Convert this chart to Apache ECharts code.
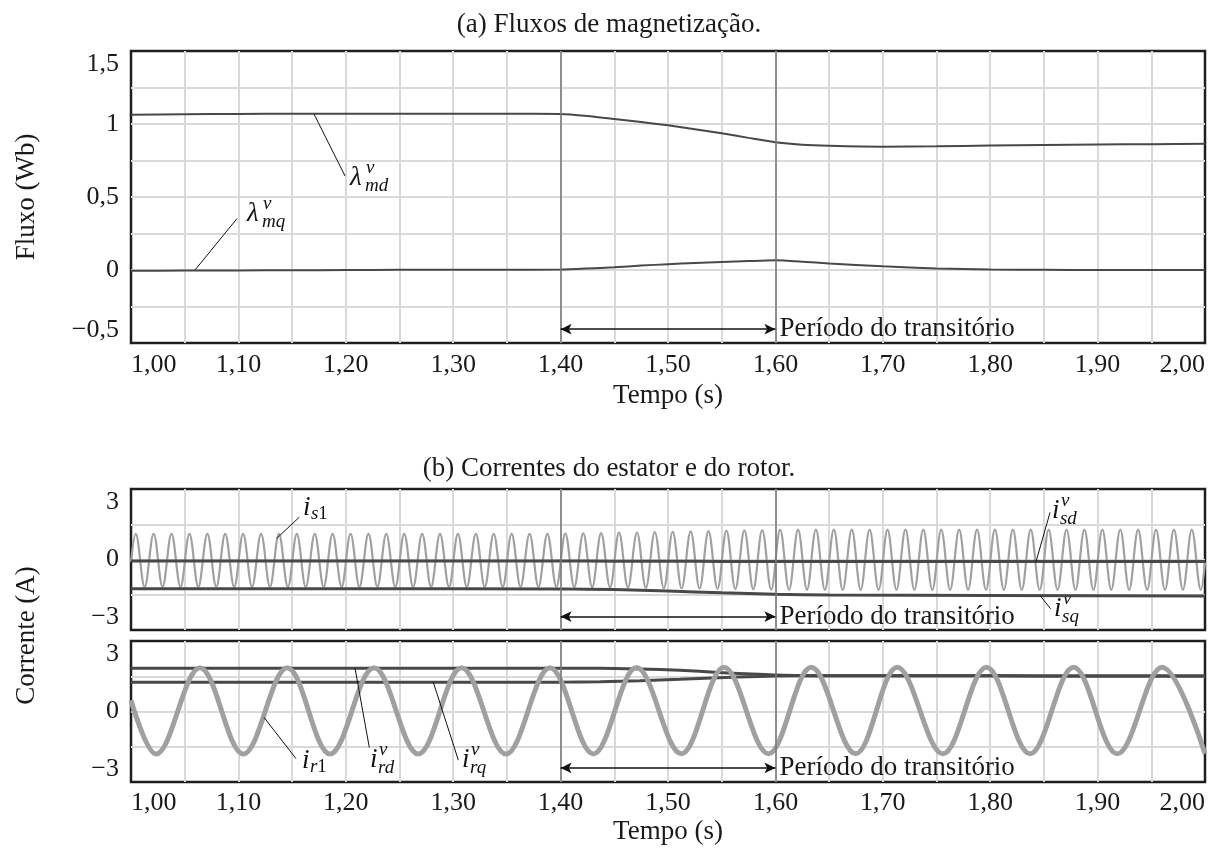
<!DOCTYPE html>
<html>
<head>
<meta charset="utf-8">
<script src="https://cdn.jsdelivr.net/npm/echarts@6/dist/echarts.min.js"></script>
<style>
  html, body { margin: 0; padding: 0; background: #ffffff; }
  #chart { width: 1218px; height: 853px; }
</style>
</head>
<body>
<div id="chart"></div>
<script>
// ---- axis ticks -------------------------------------------------------
const timeTicks = [1.0, 1.1, 1.2, 1.3, 1.4, 1.5, 1.6, 1.7, 1.8, 1.9, 2.0];
const timeTickLabels = ['1,00', '1,10', '1,20', '1,30', '1,40', '1,50', '1,60', '1,70', '1,80', '1,90', '2,00'];
const fluxTicks = [-0.5, 0, 0.5, 1, 1.5];
const fluxTickLabels = ['\u22120,5', '0', '0,5', '1', '1,5'];
const currentTicks = [-3, 0, 3];
const currentTickLabels = ['\u22123', '0', '3'];

// transient window (s)
const transientStart = 1.40;
const transientEnd = 1.60;

// ---- (a) magnetizing fluxes (Wb) ---------------------------------------
const fluxTime = [1.00, 1.05, 1.10, 1.15, 1.20, 1.25, 1.30, 1.35, 1.40, 1.425, 1.45, 1.475, 1.50,
                  1.525, 1.55, 1.575, 1.60, 1.625, 1.65, 1.70, 1.75, 1.80, 1.85, 1.90, 1.95, 2.00];
const lambdaMd = [1.064, 1.067, 1.069, 1.071, 1.071, 1.071, 1.070, 1.070, 1.069, 1.055, 1.034, 1.013, 0.991,
                  0.964, 0.936, 0.905, 0.875, 0.858, 0.851, 0.845, 0.847, 0.853, 0.857, 0.860, 0.862, 0.864];
const lambdaMq = [-0.005, -0.004, -0.003, -0.002, 0.000, 0.001, 0.002, 0.002, 0.003, 0.010, 0.019, 0.030, 0.040,
                  0.048, 0.055, 0.061, 0.066, 0.057, 0.045, 0.025, 0.010, 0.003, 0.001, 0.000, 0.000, 0.000];

// ---- (b) stator currents (A) --------------------------------------------
const statorDqTime = [1.00, 1.20, 1.40, 1.45, 1.50, 1.55, 1.60, 1.65, 1.80, 2.00];
const isd = [-0.06, -0.06, -0.06, -0.07, -0.07, -0.08, -0.08, -0.09, -0.09, -0.09];
const isq = [-1.24, -1.24, -1.25, -1.28, -1.34, -1.42, -1.48, -1.51, -1.53, -1.55];

// phase current i_s1: crest / trough instants and values
const is1Time = [
  1.0000,
  1.0044, 1.0127, 1.0211, 1.0294, 1.0377, 1.0461, 1.0544, 1.0627, 1.0711, 1.0794,
  1.0877, 1.0961, 1.1044, 1.1127, 1.1211, 1.1294, 1.1377, 1.1461, 1.1544, 1.1627,
  1.1711, 1.1794, 1.1877, 1.1961, 1.2044, 1.2127, 1.2211, 1.2294, 1.2377, 1.2461,
  1.2544, 1.2627, 1.2711, 1.2794, 1.2877, 1.2961, 1.3044, 1.3127, 1.3211, 1.3294,
  1.3377, 1.3461, 1.3544, 1.3627, 1.3711, 1.3794, 1.3877, 1.3961, 1.4044, 1.4127,
  1.4211, 1.4294, 1.4377, 1.4461, 1.4544, 1.4627, 1.4711, 1.4794, 1.4877, 1.4961,
  1.5044, 1.5127, 1.5211, 1.5294, 1.5377, 1.5461, 1.5544, 1.5627, 1.5711, 1.5794,
  1.5877, 1.5961, 1.6044, 1.6127, 1.6211, 1.6294, 1.6377, 1.6461, 1.6544, 1.6627,
  1.6711, 1.6794, 1.6877, 1.6961, 1.7044, 1.7127, 1.7211, 1.7294, 1.7377, 1.7461,
  1.7544, 1.7627, 1.7711, 1.7794, 1.7877, 1.7961, 1.8044, 1.8127, 1.8211, 1.8294,
  1.8377, 1.8461, 1.8544, 1.8627, 1.8711, 1.8794, 1.8877, 1.8961, 1.9044, 1.9127,
  1.9211, 1.9294, 1.9377, 1.9461, 1.9544, 1.9627, 1.9711, 1.9794, 1.9877, 1.9961,
  2.0000
];
const is1Value = [
  -0.10,
  1.09, -1.16, 1.09, -1.16, 1.09, -1.16, 1.09, -1.16, 1.09, -1.16,
  1.09, -1.16, 1.09, -1.16, 1.09, -1.16, 1.09, -1.16, 1.09, -1.16,
  1.09, -1.16, 1.09, -1.16, 1.09, -1.16, 1.09, -1.16, 1.09, -1.16,
  1.09, -1.16, 1.09, -1.16, 1.09, -1.16, 1.09, -1.16, 1.09, -1.16,
  1.09, -1.16, 1.09, -1.16, 1.09, -1.16, 1.09, -1.16, 1.10, -1.17,
  1.11, -1.18, 1.12, -1.19, 1.14, -1.20, 1.15, -1.21, 1.17, -1.22,
  1.18, -1.23, 1.20, -1.24, 1.21, -1.25, 1.23, -1.26, 1.24, -1.27,
  1.25, -1.28, 1.27, -1.29, 1.27, -1.29, 1.27, -1.29, 1.27, -1.29,
  1.27, -1.29, 1.27, -1.29, 1.27, -1.29, 1.27, -1.29, 1.27, -1.29,
  1.27, -1.29, 1.27, -1.29, 1.27, -1.29, 1.27, -1.29, 1.27, -1.29,
  1.27, -1.29, 1.27, -1.29, 1.27, -1.29, 1.27, -1.29, 1.27, -1.29,
  1.27, -1.29, 1.27, -1.29, 1.27, -1.29, 1.27, -1.29, 1.27, -1.29,
  -0.13
];

// ---- (b) rotor currents (A) ---------------------------------------------
const rotorDqTime = [1.00, 1.20, 1.40, 1.437, 1.474, 1.511, 1.547, 1.584, 1.60, 1.64, 1.70, 1.80, 1.90, 2.00];
const ird = [1.84, 1.84, 1.84, 1.84, 1.81, 1.76, 1.66, 1.58, 1.55, 1.52, 1.52, 1.52, 1.51, 1.51];
const irq = [1.24, 1.24, 1.25, 1.27, 1.31, 1.37, 1.44, 1.49, 1.51, 1.52, 1.52, 1.52, 1.51, 1.51];

// phase current i_r1: crest / trough instants and values
const ir1Time = [1.0000, 1.0233, 1.0642, 1.1046, 1.1455, 1.1853, 1.2263, 1.2675, 1.3078, 1.3492,
                 1.3901, 1.4305, 1.4707, 1.5124, 1.5522, 1.5935, 1.6334, 1.6747, 1.7135, 1.7559,
                 1.7965, 1.8371, 1.8777, 1.9183, 1.9600, 2.0000];
const ir1Value = [0.48, -1.81, 1.86, -1.81, 1.86, -1.81, 1.86, -1.81, 1.86, -1.81,
                  1.86, -1.81, 1.87, -1.80, 1.88, -1.80, 1.88, -1.80, 1.88, -1.80,
                  1.88, -1.80, 1.88, -1.80, 1.88, -1.80];

// ---- styling --------------------------------------------------------------
const FONT = '"Liberation Serif", "DejaVu Serif", serif';
const INK = '#1a1a1a';
const DARK = '#484848';
const LIGHT = '#a0a0a0';
const GRID_LINE = '#d9d9d9';
const FRAME = '#1e1e1e';
const TICK_SIZE = 26;
const TEXT_SIZE = 27;

const pairs = (xs, ys) => xs.map((x, i) => [x, ys[i]]);
const labelMap = (ticks, labels) => {
  const m = {};
  ticks.forEach((t, i) => { m[Math.round(t * 100)] = labels[i]; });
  return v => { const s = m[Math.round(v * 100)]; return s === undefined ? '' : s; };
};
const timeLabel = labelMap(timeTicks, timeTickLabels);
const fluxLabel = labelMap(fluxTicks, fluxTickLabels);
const currentLabel = labelMap(currentTicks, currentTickLabels);

const textStyle = (size) => ({ fontFamily: FONT, fontSize: size, color: INK, fontWeight: 'normal' });

function timeAxis(gridIndex, showLabels, labelMargin, nameGap) {
  return {
    type: 'value', gridIndex, min: 1.0, max: 2.0, interval: 0.05,
    axisLine: { show: false }, axisTick: { show: false },
    splitLine: { show: true, showMinLine: false, showMaxLine: false, lineStyle: { color: GRID_LINE, width: 2 } },
    axisLabel: Object.assign({
      show: showLabels, margin: labelMargin, formatter: timeLabel,
      alignMinLabel: 'left', alignMaxLabel: 'right'
    }, textStyle(TICK_SIZE)),
    name: showLabels ? 'Tempo (s)' : '', nameLocation: 'middle', nameGap: nameGap,
    nameTextStyle: textStyle(TEXT_SIZE)
  };
}
function valueAxis(gridIndex, min, max, interval, fmt) {
  return {
    type: 'value', gridIndex, min, max, interval,
    axisLine: { show: false }, axisTick: { show: false },
    splitLine: { show: true, showMinLine: false, showMaxLine: false, lineStyle: { color: GRID_LINE, width: 2 } },
    axisLabel: Object.assign({
      margin: 12, formatter: fmt,
      verticalAlignMinLabel: 'bottom', verticalAlignMaxLabel: 'top'
    }, textStyle(TICK_SIZE))
  };
}

// vertical markers bounding the transient
const transientLines = () => ({
  silent: true, symbol: ['none', 'none'], animation: false,
  label: { show: false },
  lineStyle: { color: '#7c7c7c', width: 1.6, type: 'solid' },
  data: [{ xAxis: transientStart }, { xAxis: transientEnd }]
});

function transientArrow(y) {
  return [
    { coord: [transientStart, y], symbol: 'arrow', symbolSize: [8, 11],
      lineStyle: { color: '#111', width: 1.6, type: 'solid' },
      label: Object.assign({ show: true, position: 'end', distance: 4, formatter: 'Per\u00edodo do transit\u00f3rio' }, textStyle(TEXT_SIZE)) },
    { coord: [transientEnd, y], symbol: 'arrow', symbolSize: [8, 11] }
  ];
}
function leader(a, b) {
  return [
    { coord: a, symbol: 'none', lineStyle: { color: '#111', width: 1, type: 'solid' }, label: { show: false } },
    { coord: b, symbol: 'none' }
  ];
}

const baseSeries = (name, xi, data, color, width, smooth) => ({
  name, type: 'line', xAxisIndex: xi, yAxisIndex: xi, data,
  showSymbol: false, symbol: 'none', smooth, animation: false,
  lineStyle: { color, width }, silent: true
});

const chart = echarts.init(document.getElementById('chart'), null, { renderer: 'canvas' });

const option = {
  backgroundColor: '#ffffff',
  animation: false,
  title: [
    { text: '(a) Fluxos de magnetiza\u00e7\u00e3o.', left: 'center', top: 11, padding: 0, textStyle: textStyle(TEXT_SIZE) },
    { text: '(b) Correntes do estator e do rotor.', left: 'center', top: 455, padding: 0, textStyle: textStyle(TEXT_SIZE) }
  ],
  grid: [
    { left: 131, right: 13, top: 51, height: 292, show: true, borderColor: FRAME, borderWidth: 2.5, backgroundColor: 'transparent' },
    { left: 131, right: 13, top: 489, height: 141, show: true, borderColor: FRAME, borderWidth: 2.5, backgroundColor: 'transparent' },
    { left: 131, right: 13, top: 641, height: 141, show: true, borderColor: FRAME, borderWidth: 2.5, backgroundColor: 'transparent' }
  ],
  xAxis: [timeAxis(0, true, 9, 39), timeAxis(1, false, 8, 36), timeAxis(2, true, 8, 36)],
  yAxis: [
    valueAxis(0, -0.5, 1.5, 0.25, fluxLabel),
    valueAxis(1, -3, 3, 1.5, currentLabel),
    valueAxis(2, -3, 3, 1.5, currentLabel)
  ],
  series: [
    // (a)
    Object.assign(baseSeries('\u03bb_md', 0, pairs(fluxTime, lambdaMd), DARK, 2, 0.2), {
      markLine: transientLines()
    }),
    Object.assign(baseSeries('\u03bb_mq', 0, pairs(fluxTime, lambdaMq), DARK, 2, 0.2), {
      markLine: {
        silent: true, animation: false, symbol: ['none', 'none'], label: { show: false },
        data: [
          transientArrow(-0.405),
          leader([1.1704, 1.068], [1.1993, 0.644]),
          leader([1.0596, 0.0], [1.0987, 0.352])
        ]
      }
    }),
    // (b) stator
    Object.assign(baseSeries('i_s1', 1, pairs(is1Time, is1Value), LIGHT, 2.2, 0.364), {
      markLine: transientLines()
    }),
    baseSeries('i_sd', 1, pairs(statorDqTime, isd), DARK, 3, 0.2),
    Object.assign(baseSeries('i_sq', 1, pairs(statorDqTime, isq), DARK, 3, 0.2), {
      markLine: {
        silent: true, animation: false, symbol: ['none', 'none'], label: { show: false },
        data: [
          transientArrow(-2.43),
          leader([1.1567, 1.80], [1.1357, 0.90]),
          leader([1.8557, 2.0], [1.8426, -0.10]),
          leader([1.8464, -1.53], [1.8563, -2.10])
        ]
      }
    }),
    // (b) rotor
    Object.assign(baseSeries('i_rd', 2, pairs(rotorDqTime, ird), DARK, 3, 0.2), {
      markLine: transientLines()
    }),
    baseSeries('i_rq', 2, pairs(rotorDqTime, irq), DARK, 3, 0.2),
    Object.assign(baseSeries('i_r1', 2, pairs(ir1Time, ir1Value), LIGHT, 5, 0.364), {
      markLine: {
        silent: true, animation: false, symbol: ['none', 'none'], label: { show: false },
        data: [
          transientArrow(-2.40),
          leader([1.1238, -0.25], [1.1536, -2.0]),
          leader([1.2086, 1.836], [1.2219, -1.53]),
          leader([1.2815, 1.24], [1.3048, -2.07])
        ]
      }
    })
  ]
};
chart.setOption(option);

// ---- math-style curve labels (base symbol with super/subscripts) ---------
const curveLabels = [
  { grid: 0, at: [1.2039, 0.632], base: '\u03bb', sup: 'v', sub: '{i|md}' },
  { grid: 0, at: [1.1080, 0.386], base: '\u03bb', sup: 'v', sub: '{i|mq}' },
  { grid: 1, at: [1.1601, 2.21], base: 'i', sub: '{i|s}{n|1}' },
  { grid: 1, at: [1.8575, 2.07], base: 'i', sup: 'v', sub: '{i|sd}' },
  { grid: 1, at: [1.8594, -2.09], base: 'i', sup: 'v', sub: '{i|sq}' },
  { grid: 2, at: [1.1592, -2.12], base: 'i', sub: '{i|r}{n|1}' },
  { grid: 2, at: [1.2225, -2.08], base: 'i', sup: 'v', sub: '{i|rd}' },
  { grid: 2, at: [1.3082, -2.08], base: 'i', sup: 'v', sub: '{i|rq}' }
];

function mathLabel(spec) {
  const p = chart.convertToPixel({ gridIndex: spec.grid }, spec.at);
  const w = spec.base === '\u03bb' ? 15 : 8;
  const kids = [{
    type: 'text', x: 0, y: 0,
    style: { text: spec.base, font: 'italic 27px ' + FONT, fill: '#111', align: 'left', verticalAlign: 'middle' }
  }];
  if (spec.sup) {
    kids.push({
      type: 'text', x: w + 1, y: -10,
      style: { text: spec.sup, font: 'italic 19px ' + FONT, fill: '#111', align: 'left', verticalAlign: 'middle' }
    });
  }
  kids.push({
    type: 'text', x: w, y: spec.sup ? 8 : 6,
    style: {
      text: spec.sub, fill: '#111', align: 'left', verticalAlign: 'middle',
      rich: {
        i: { fontFamily: FONT, fontSize: 19, fontStyle: 'italic', color: '#111' },
        n: { fontFamily: FONT, fontSize: 19, color: '#111' }
      }
    }
  });
  return { type: 'group', x: p[0], y: p[1], silent: true, children: kids };
}

// rotated vertical axis titles, centred on their plot areas
const fluxMid = chart.convertToPixel({ gridIndex: 0 }, [1.0, 0.5])[1];
const currTop = chart.convertToPixel({ gridIndex: 1 }, [1.0, 3])[1];
const currBot = chart.convertToPixel({ gridIndex: 2 }, [1.0, -3])[1];

const graphics = curveLabels.map(mathLabel).concat([
  { type: 'text', x: 27, y: fluxMid, rotation: Math.PI / 2, silent: true,
    style: { text: 'Fluxo (Wb)', font: TEXT_SIZE + 'px ' + FONT, fill: INK, align: 'center', verticalAlign: 'middle' } },
  { type: 'text', x: 27, y: (currTop + currBot) / 2, rotation: Math.PI / 2, silent: true,
    style: { text: 'Corrente (A)', font: TEXT_SIZE + 'px ' + FONT, fill: INK, align: 'center', verticalAlign: 'middle' } }
]);
chart.setOption({ graphic: graphics });
</script>
</body>
</html>
